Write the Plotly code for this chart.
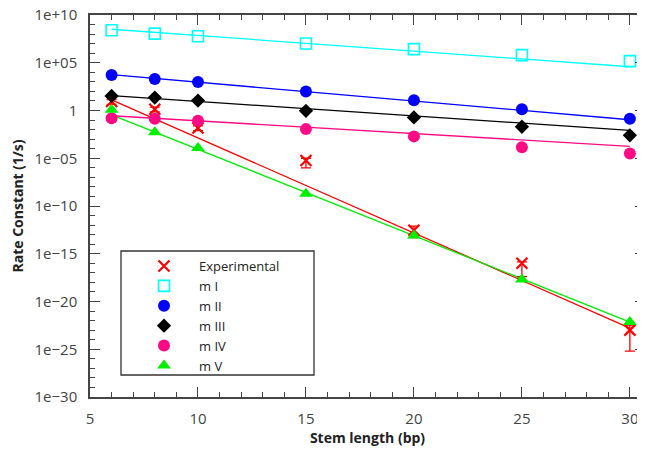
import plotly.graph_objects as go

# ---- data (log10 of rate constant) ----
stem = [6, 8, 10, 15, 20, 25, 30]

exp_log = [0.94, 0.14, -1.84, -5.24, -12.53, -16.0, -23.0]
exp_low = [0.65, -0.15, -2.1, -6.0, -13.3, -17.4, -25.2]
exp_high = [1.15, 0.35, -1.6, -5.0, -12.1, -15.85, -22.47]

m1_log = [8.4, 8.05, 7.78, 7.01, 6.43, 5.8, 5.17]
m2_log = [3.72, 3.30, 2.99, 1.98, 1.07, 0.14, -0.86]
m3_log = [1.53, 1.35, 1.04, -0.03, -0.73, -1.70, -2.6]
m4_log = [-0.80, -0.86, -1.07, -1.95, -2.71, -3.85, -4.51]
m5_log = [0.07, -2.29, -3.93, -8.72, -13.1, -17.7, -22.15]

# fitted lines: values at the first and last stem length
fit_x = [6, 30]
fit_exp = [1.11, -22.78]
fit_m1 = [8.51, 4.58]
fit_m2 = [3.75, -0.97]
fit_m3 = [1.56, -2.08]
fit_m4 = [-0.55, -3.75]
fit_m5 = [-0.45, -22.15]

ytick_exp = [10, 5, 0, -5, -10, -15, -20, -25, -30]
ytick_text = ["1e+10", "1e+05", "1", "1e\u221205", "1e\u221210", "1e\u221215",
              "1e\u221220", "1e\u221225", "1e\u221230"]

RED = "#ff0000"
CYAN = "#00ffff"
BLUE = "#0000ff"
BLACK = "#000000"
PINK = "#ff0a85"
GREEN = "#00ee00"


def p(v):
    return [10 ** e for e in v]


fig = go.Figure()

# fit lines
for fx, col in [(fit_m1, CYAN), (fit_m2, BLUE), (fit_m3, BLACK), (fit_m4, PINK),
                (fit_exp, RED), (fit_m5, GREEN)]:
    fig.add_trace(go.Scatter(x=fit_x, y=p(fx), mode="lines",
                             line=dict(color=col, width=1.3), showlegend=False,
                             hoverinfo="skip"))

exp_vals = p(exp_log)
err_minus = [v - 10 ** l for v, l in zip(exp_vals, exp_low)]
err_plus = [10 ** h - v for v, h in zip(exp_vals, exp_high)]

fig.add_trace(go.Scatter(
    x=stem, y=exp_vals, mode="markers", name="Experimental",
    marker=dict(symbol="x-thin", size=11, line=dict(color=RED, width=2.2), color=RED),
    error_y=dict(type="data", symmetric=False, array=err_plus, arrayminus=err_minus,
                 color=RED, thickness=1.3, width=5)))
fig.add_trace(go.Scatter(
    x=stem, y=p(m1_log), mode="markers", name="m I",
    marker=dict(symbol="square-open", size=11, color=CYAN, line=dict(width=1.6, color=CYAN))))
fig.add_trace(go.Scatter(
    x=stem, y=p(m2_log), mode="markers", name="m II",
    marker=dict(symbol="circle", size=12, color=BLUE)))
fig.add_trace(go.Scatter(
    x=stem, y=p(m3_log), mode="markers", name="m III",
    marker=dict(symbol="diamond", size=11, color=BLACK)))
fig.add_trace(go.Scatter(
    x=stem, y=p(m4_log), mode="markers", name="m IV",
    marker=dict(symbol="circle", size=12, color=PINK)))
fig.add_trace(go.Scatter(
    x=stem, y=p(m5_log), mode="markers", name="m V",
    marker=dict(symbol="triangle-up", size=12, color=GREEN)))

AX = "#444444"
OFF = 8  # page body margin: figure origin sits at (8, 8) in the window
FW, FH = 645 - OFF, 449 - OFF
# plot area in window pixels
L, R, T, B = 90, 645, 15, 397
PW, PH = R - L, B - T


def px_x(v):
    return (v - L) / PW


def px_y(v):
    return 1 - (v - T) / PH


fig.update_layout(
    width=FW, height=FH,
    margin=dict(l=L - OFF, r=FW - (R - OFF), t=T - OFF, b=FH - (B - OFF), autoexpand=False),
    plot_bgcolor="white", paper_bgcolor="white",
    font=dict(family="Open Sans, DejaVu Sans, sans-serif", size=15, color="#444444"),
    xaxis=dict(
        range=[5, 30.7], tick0=5, dtick=5, ticks="inside", ticklen=10, tickwidth=1.2,
        tickcolor=AX, showline=True, linecolor=AX, linewidth=1.5, mirror="ticks",
        showgrid=False, zeroline=False, automargin=False, ticklabelstandoff=7,
        ticklabeloverflow="allow",
        minor=dict(dtick=1, ticks="inside", ticklen=5, tickcolor=AX, tickwidth=1.2),
        tickfont=dict(size=15, color="#444444"),
        title=dict(text="<b>Stem length (bp)</b>", font=dict(size=14, color="#222222"),
                   standoff=0),
    ),
    yaxis=dict(
        type="log", range=[-30, 10],
        tickvals=[10 ** e for e in ytick_exp], ticktext=ytick_text,
        ticks="inside", ticklen=10, tickwidth=1.2, tickcolor=AX,
        showline=True, linecolor=AX, linewidth=1.5, mirror="ticks",
        showgrid=False, zeroline=False, automargin=False, ticklabelstandoff=8,
        ticklabeloverflow="allow",
        minor=dict(tickvals=[10.0 ** e for e in range(-30, 11) if e % 5 != 0],
                   ticks="inside", ticklen=5, tickcolor=AX, tickwidth=1.2),
        tickfont=dict(size=15, color="#444444"),
        title=dict(text="<b>Rate Constant (1/s)</b>", font=dict(size=14, color="#222222"),
                   standoff=12),
    ),
    legend=dict(x=px_x(129), y=px_y(251), xanchor="left", yanchor="top",
                bgcolor="rgba(0,0,0,0)", borderwidth=0, itemwidth=60,
                font=dict(size=13, color="#222222"), tracegroupgap=0),
    shapes=[dict(type="rect", xref="paper", yref="paper",
                 x0=px_x(121), x1=px_x(314), y0=px_y(375), y1=px_y(251),
                 line=dict(color="#333333", width=1.3), fillcolor="rgba(0,0,0,0)")],
)

fig.write_html("out.html")
